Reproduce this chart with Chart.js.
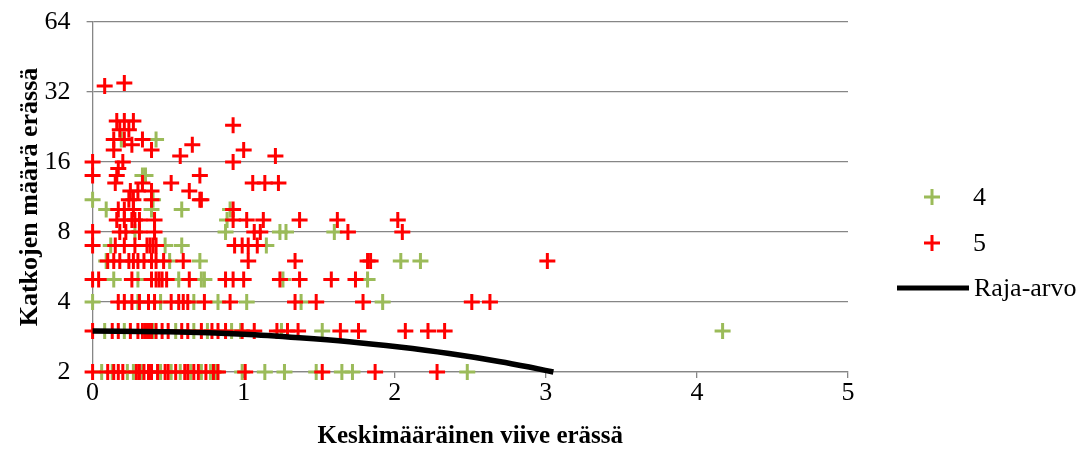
<!DOCTYPE html>
<html>
<head>
<meta charset="utf-8">
<script src="https://cdn.jsdelivr.net/npm/chart.js@4"></script>
<style>
  html, body { margin: 0; padding: 0; background: #fff; }
</style>
</head>
<body>
<canvas id="chart" width="1087" height="454"></canvas>
<script>
// values: [keskimääräinen viive, katkojen määrä]
const series4 = [
  [0.06,2],[0.13,2],[0.23,2],[0.27,2],[0.33,2],[0.45,2],[0.52,2],[0.58,2],[0.65,2],[0.72,2],
  [0.78,2],[0.82,2],[0.99,2],[1.14,2],[1.27,2],[1.48,2],[1.65,2],[1.72,2],[2.48,2],
  [0.08,3],[0.21,3],[0.36,3],[0.40,3],[0.55,3],[0.67,3],[0.76,3],[0.92,3],[0.98,3],[1.25,3],
  [1.52,3],[4.17,3],
  [0,4],[0.30,4],[0.45,4],[0.67,4],[0.83,4],[1.02,4],[1.38,4],[1.92,4],
  [0.14,5],[0.30,5],[0.57,5],[0.72,5],[0.74,5],[1.26,5],[1.82,5],
  [0.09,6],[0.51,6],[0.71,6],[2.04,6],[2.17,6],
  [0.12,7],[0.48,7],[0.59,7],[1.15,7],
  [0.28,8],[0.88,8],[1.24,8],[1.28,8],[1.60,8],
  [0.89,9],
  [0.09,10],[0.39,10],[0.59,10],[0.91,10],
  [0,11],[0.40,11],
  [0.33,14],[0.35,14],
  [0.19,20],[0.42,20]
];

const series5 = [
  [0,2],[0.10,2],[0.14,2],[0.17,2],[0.20,2],[0.29,2],[0.31,2],[0.34,2],[0.37,2],[0.39,2],
  [0.43,2],[0.48,2],[0.50,2],[0.55,2],[0.61,2],[0.63,2],[0.67,2],[0.70,2],[0.75,2],[0.80,2],
  [0.83,2],[1.01,2],[1.52,2],[1.87,2],[2.28,2],
  [0,3],[0.13,3],[0.17,3],[0.25,3],[0.30,3],[0.33,3],[0.35,3],[0.37,3],[0.39,3],[0.42,3],
  [0.46,3],[0.50,3],[0.59,3],[0.63,3],[0.72,3],[0.79,3],[0.83,3],[0.88,3],[0.99,3],[1.07,3],
  [1.22,3],[1.29,3],[1.36,3],[1.64,3],[1.76,3],[2.07,3],[2.22,3],[2.33,3],
  [0.17,4],[0.21,4],[0.26,4],[0.31,4],[0.37,4],[0.41,4],[0.52,4],[0.57,4],[0.60,4],[0.63,4],
  [0.74,4],[0.91,4],[1.34,4],[1.48,4],[1.79,4],[2.51,4],[2.63,4],
  [0,5],[0.04,5],[0.26,5],[0.39,5],[0.42,5],[0.44,5],[0.46,5],[0.49,5],[0.64,5],[0.88,5],
  [0.93,5],[1.00,5],[1.24,5],[1.37,5],[1.58,5],[1.74,5],
  [0.10,6],[0.14,6],[0.18,6],[0.24,6],[0.27,6],[0.30,6],[0.34,6],[0.39,6],[0.42,6],[0.47,6],
  [0.60,6],[1.03,6],[1.34,6],[1.82,6],[1.84,6],[3.01,6],
  [0,7],[0.15,7],[0.21,7],[0.28,7],[0.36,7],[0.38,7],[0.40,7],[0.42,7],[0.94,7],[0.99,7],
  [1.03,7],[1.09,7],
  [0,8],[0.18,8],[0.22,8],[0.31,8],[0.41,8],[1.07,8],[1.11,8],[1.69,8],[2.05,8],
  [0.16,9],[0.21,9],[0.26,9],[0.28,9],[0.31,9],[0.41,9],[0.93,9],[1.02,9],[1.13,9],[1.37,9],
  [1.62,9],[2.02,9],
  [0.17,10],[0.21,10],[0.27,10],[0.93,10],
  [0.24,11],[0.27,11],[0.39,11],[0.71,11],[0.72,11],
  [0.25,12],[0.30,12],[0.39,12],[0.64,12],
  [0.15,13],[0.33,13],[0.52,13],[1.06,13],[1.14,13],[1.23,13],
  [0,14],[0.16,14],[0.71,14],
  [0.17,15],
  [0,16],[0.20,16],[0.93,16],
  [0.58,17],[1.21,17],
  [0.14,18],[0.39,18],[1.00,18],
  [0.26,19],[0.66,19],
  [0.14,20],[0.21,20],[0.33,20],
  [0.18,22],[0.24,22],
  [0.93,23],
  [0.16,24],[0.21,24],[0.27,24],
  [0.08,34],
  [0.21,35]
];

const rajaX = [0, 0.5, 1.0, 1.37, 1.7, 2.03, 2.36, 2.69, 2.89, 3.05];
const rajaY = [3.0, 2.98, 2.91, 2.81, 2.70, 2.56, 2.40, 2.22, 2.10, 2.0];

const yTicks = [2, 4, 8, 16, 32, 64];
const xTicks = [0, 1, 2, 3, 4, 5];

const green = 'rgb(155,187,89)';
const red = 'rgb(255,0,0)';
const gridGray = 'rgb(134,134,134)';
const serif = "'Liberation Serif', 'Times New Roman', serif";

// legend drawn by hand so it sits where the reference has it
const sideLegend = {
  id: 'sideLegend',
  afterDraw(chart) {
    const ctx = chart.ctx;
    ctx.save();
    ctx.font = '26px ' + serif;
    ctx.fillStyle = '#000';
    ctx.textBaseline = 'middle';
    const rows = [
      {y: 197, label: '4', color: green, kind: 'cross'},
      {y: 243, label: '5', color: red, kind: 'cross'},
      {y: 288, label: 'Raja-arvo', color: '#000', kind: 'line'}
    ];
    rows.forEach(r => {
      ctx.strokeStyle = r.color;
      ctx.beginPath();
      if (r.kind === 'cross') {
        ctx.lineWidth = 3;
        ctx.moveTo(924, r.y); ctx.lineTo(940, r.y);
        ctx.moveTo(932, r.y - 8); ctx.lineTo(932, r.y + 8);
        ctx.stroke();
        ctx.fillText(r.label, 973, r.y + 1);
      } else {
        ctx.lineWidth = 5;
        ctx.moveTo(897, r.y); ctx.lineTo(969, r.y);
        ctx.stroke();
        ctx.fillText(r.label, 974, r.y + 1);
      }
    });
    ctx.restore();
  }
};

const chart = new Chart(document.getElementById('chart'), {
  type: 'scatter',
  data: {
    datasets: [
      {
        label: '4',
        data: series4.map(p => ({x: p[0], y: p[1]})),
        pointStyle: 'cross',
        pointRadius: 8,
        pointBorderWidth: 3,
        borderColor: green,
        backgroundColor: green,
        clip: false,
        order: 3
      },
      {
        label: '5',
        data: series5.map(p => ({x: p[0], y: p[1]})),
        pointStyle: 'cross',
        pointRadius: 8,
        pointBorderWidth: 3,
        borderColor: red,
        backgroundColor: red,
        clip: false,
        order: 2
      },
      {
        label: 'Raja-arvo',
        data: rajaX.map((x, i) => ({x: x, y: rajaY[i]})),
        showLine: true,
        pointRadius: 0,
        borderColor: '#000',
        borderWidth: 5.5,
        cubicInterpolationMode: 'monotone',
        clip: false,
        order: 1
      }
    ]
  },
  options: {
    responsive: false,
    animation: false,
    events: [],
    layout: { padding: { top: 22, right: 239, left: 0, bottom: 0 } },
    plugins: {
      legend: { display: false },
      tooltip: { enabled: false }
    },
    scales: {
      x: {
        type: 'linear',
        min: 0,
        max: 5,
        afterBuildTicks: s => { s.ticks = xTicks.map(v => ({value: v})); },
        afterFit: s => { s.height = 82; s.paddingLeft = 0; s.paddingRight = 0; },
        grid: { drawOnChartArea: false, color: gridGray, lineWidth: 1.3, tickLength: 6 },
        border: { color: gridGray, width: 1.3 },
        ticks: { color: '#000', font: { family: serif, size: 26 }, padding: 0 },
        title: {
          display: true,
          text: 'Keskimääräinen viive erässä',
          color: '#000',
          font: { family: serif, size: 25, weight: 'bold' },
          padding: { top: 0, bottom: 2 }
        }
      },
      y: {
        type: 'logarithmic',
        min: 2,
        max: 64,
        afterBuildTicks: s => { s.ticks = yTicks.map(v => ({value: v})); },
        afterFit: s => { s.width = 92.6; s.paddingTop = 0; s.paddingBottom = 0; },
        grid: { color: gridGray, lineWidth: 1.3, tickLength: 6 },
        border: { color: gridGray, width: 1.3 },
        ticks: {
          color: '#000',
          font: { family: serif, size: 26 },
          padding: 16,
          callback: v => String(v)
        },
        title: {
          display: true,
          text: 'Katkojen määrä erässä',
          color: '#000',
          font: { family: serif, size: 26, weight: 'bold' },
          padding: { top: 15, bottom: 0 }
        }
      }
    }
  },
  plugins: [sideLegend]
});
</script>
</body>
</html>
